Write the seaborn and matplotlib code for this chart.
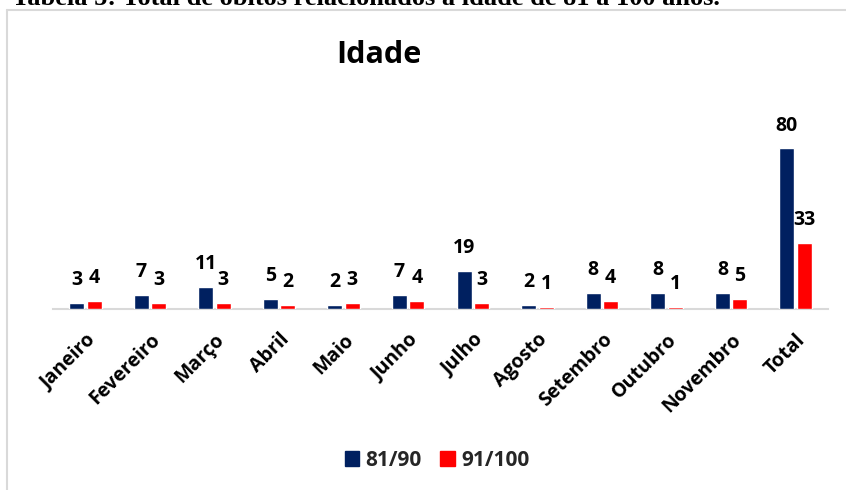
import matplotlib
matplotlib.use("Agg")
import matplotlib.pyplot as plt
from matplotlib.lines import Line2D
import seaborn as sns
import pandas as pd

months = ["Janeiro", "Fevereiro", "Março", "Abril", "Maio", "Junho", "Julho",
          "Agosto", "Setembro", "Outubro", "Novembro", "Total"]
series_names = ["81/90", "91/100"]
vals_81_90 = [3, 7, 11, 5, 2, 7, 19, 2, 8, 8, 8, 80]
vals_91_100 = [4, 3, 3, 2, 3, 4, 3, 1, 4, 1, 5, 33]
colors = ["#002060", "#FF0000"]

df = pd.DataFrame({
    "Mês": months * 2,
    "Faixa": [series_names[0]] * len(months) + [series_names[1]] * len(months),
    "Óbitos": vals_81_90 + vals_91_100,
})

sns.set_theme(style="white")
plt.rcParams["font.family"] = ["Open Sans", "DejaVu Sans"]

W, H = 846, 490
fig = plt.figure(figsize=(W / 100, H / 100), dpi=100)
ax = fig.add_axes([53 / W, 1 - 309 / H, (828 - 53) / W, (309 - 100) / H])

sns.barplot(data=df, x="Mês", y="Óbitos", hue="Faixa", palette=colors,
            width=0.54, gap=0.14, ax=ax, legend=False, saturation=1, zorder=3)

ax.set_ylim(0, (309 - 100) / 2.0125)
ax.set_xlim(-0.5, len(months) - 0.5)
ax.set_yticks([])
ax.set_xlabel("")
ax.set_ylabel("")
for s in ["top", "left", "right"]:
    ax.spines[s].set_visible(False)
ax.spines["bottom"].set_color("#d9d9d9")
ax.spines["bottom"].set_linewidth(1.5)
ax.spines["bottom"].set_zorder(1)

for cont in ax.containers:
    ax.bar_label(cont, padding=9, fontsize=14, fontweight="bold", color="black")

ax.tick_params(axis="x", length=0, pad=15)
for lab in ax.get_xticklabels():
    lab.set_rotation(45)
    lab.set_ha("right")
    lab.set_va("top")
    lab.set_rotation_mode("anchor")
    lab.set_fontsize(14)
    lab.set_fontweight("bold")
    lab.set_color("black")

fig.text(379 / W, 1 - 63 / H, "Idade", ha="center", va="baseline",
         fontsize=22, fontweight="bold", color="black")

handles = [plt.Rectangle((0, 0), 1, 1, color=c) for c in colors]
fig.legend(handles, series_names, loc="center", bbox_to_anchor=(437 / W, 1 - 460 / H),
           ncol=2, frameon=False, handlelength=0.7, handleheight=0.7,
           handletextpad=0.3, columnspacing=0.9,
           prop={"weight": "bold", "size": 15})

# outer frame
fig.add_artist(Line2D([7 / W, 7 / W], [0, 1 - 10 / H], transform=fig.transFigure,
                      color="#d9d9d9", lw=1.5))
fig.add_artist(Line2D([7 / W, 1], [1 - 10 / H, 1 - 10 / H], transform=fig.transFigure,
                      color="#d9d9d9", lw=1.5))

fig.text(12 / W, 1 - 5 / H, "Tabela 5: Total de óbitos relacionados à idade de 81 a 100 anos.",
         family=["Liberation Serif", "DejaVu Serif"], fontweight="bold", fontsize=19,
         va="baseline", ha="left", color="black")

fig.savefig("out.png", dpi=100)
